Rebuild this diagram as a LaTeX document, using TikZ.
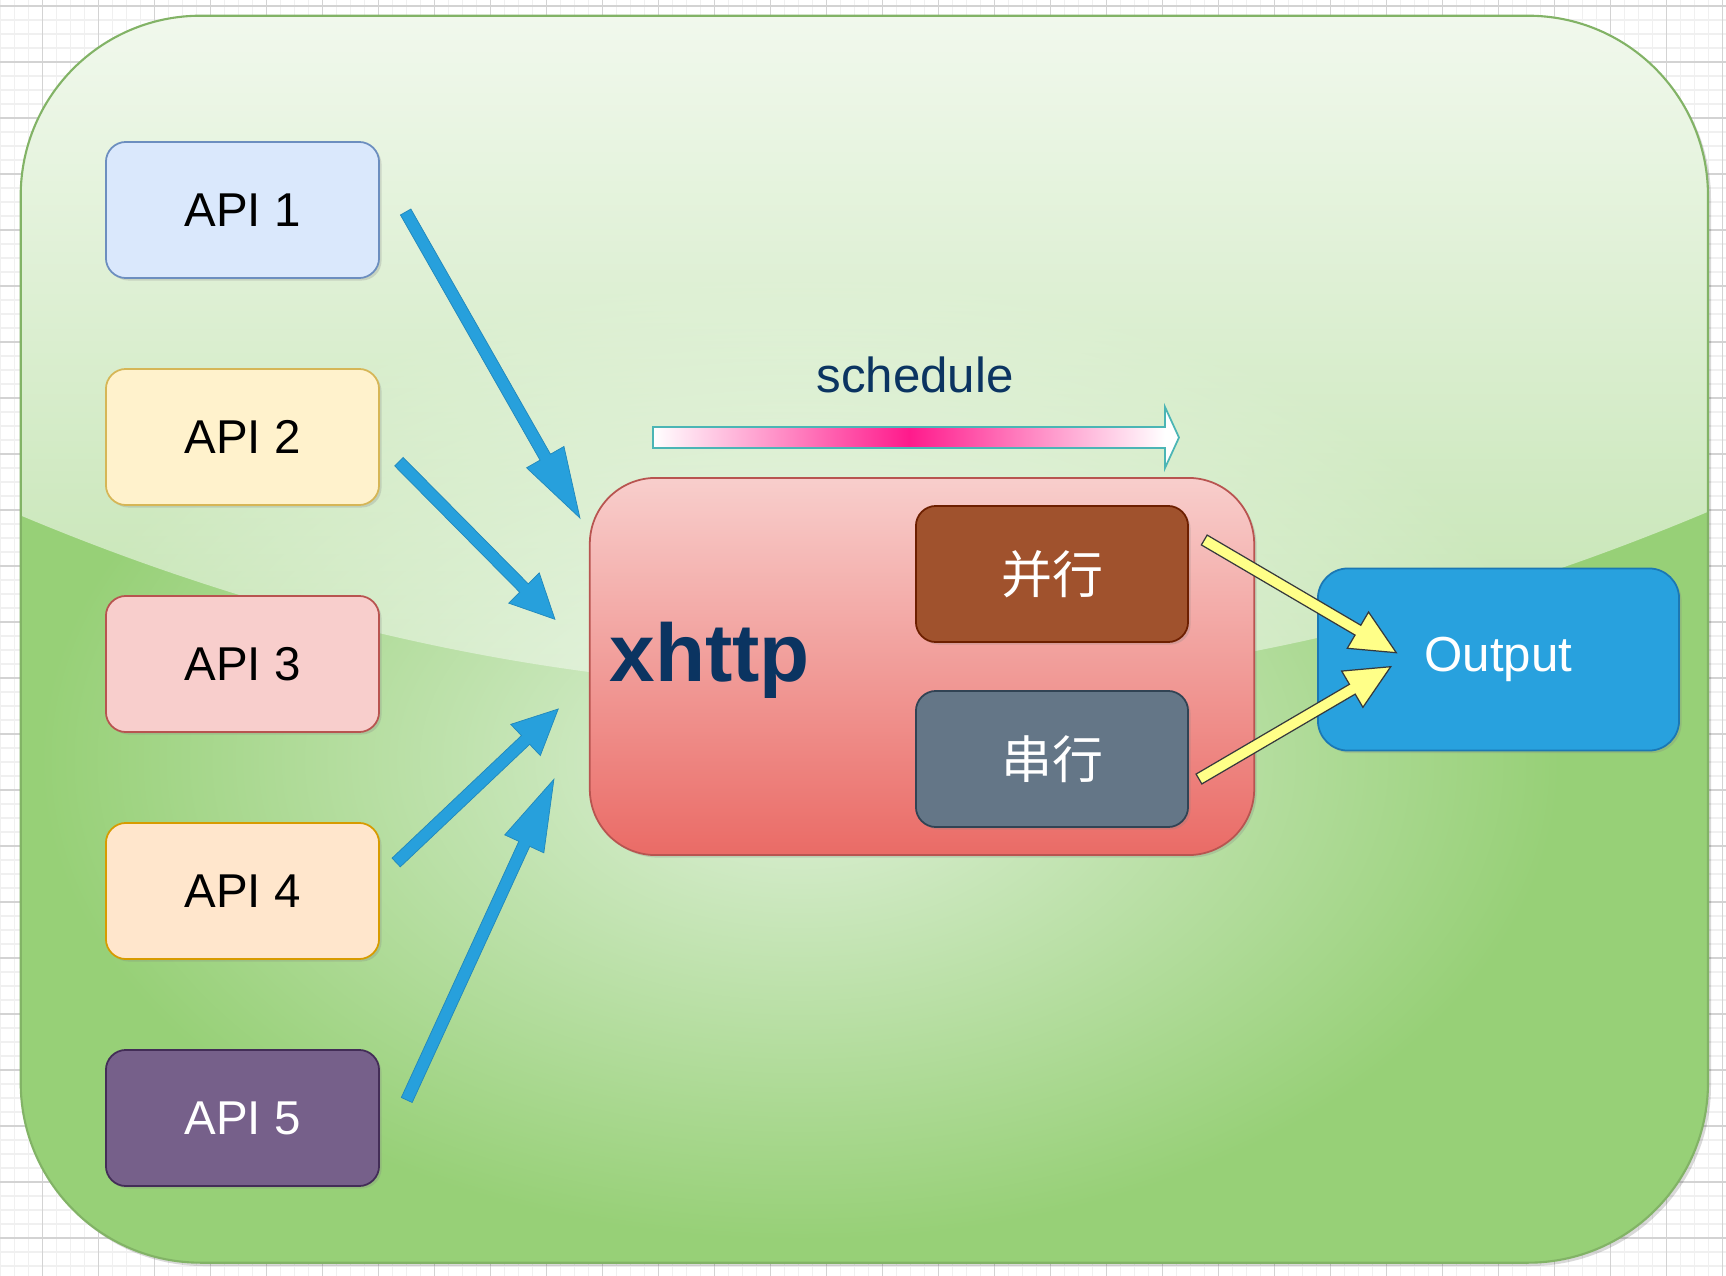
\documentclass[tikz,border=0pt]{standalone}
\usepackage{fontspec}
\setmainfont{Liberation Sans}
\newfontfamily\cjk{Noto Sans CJK SC}
\usetikzlibrary{calc,shadows,fadings}

\definecolor{gridmin}{HTML}{F0F0F0}
\definecolor{gridmaj}{HTML}{D3D3D3}
\definecolor{bgin}{HTML}{E0F1DA}
\definecolor{bgout}{HTML}{97D077}
\definecolor{bgline}{HTML}{82B366}
\definecolor{navy}{HTML}{0B3461}
\definecolor{hot}{HTML}{FF1A8C}
\definecolor{tealline}{HTML}{4BB5B5}
\definecolor{arrblue}{HTML}{27A0DC}
\definecolor{arryel}{HTML}{FFFF88}
\definecolor{arrline}{HTML}{36393D}
\definecolor{apiafill}{HTML}{DAE8FC}\definecolor{apialine}{HTML}{6C8EBF}
\definecolor{apibfill}{HTML}{FFF2CC}\definecolor{apibline}{HTML}{D6B656}
\definecolor{apicfill}{HTML}{F8CECC}\definecolor{apicline}{HTML}{B85450}
\definecolor{apidfill}{HTML}{FFE6CC}\definecolor{apidline}{HTML}{D79B00}
\definecolor{apiefill}{HTML}{76608A}\definecolor{apieline}{HTML}{432D57}
\definecolor{hubtop}{HTML}{F8CECC}\definecolor{hubbot}{HTML}{EA6B66}
\definecolor{parfill}{HTML}{A0522D}\definecolor{parline}{HTML}{6D1F00}
\definecolor{serfill}{HTML}{647687}\definecolor{serline}{HTML}{314354}
\definecolor{outfill}{HTML}{28A1DE}\definecolor{outline}{HTML}{1B78B4}

\tikzfading[name=glassfade, top color=transparent!12, bottom color=transparent!62]

\tikzset{shad/.style={drop shadow={shadow xshift=0.025cm, shadow yshift=-0.025cm, opacity=0.25}}}
\tikzset{api/.style={rounded corners=0.2cm, minimum width=2.73cm, minimum height=1.36cm, line width=0.5pt, font=\fontsize{13.5}{16}\selectfont, shad}}
\tikzset{sub/.style={rounded corners=0.2cm, minimum width=2.72cm, minimum height=1.36cm, line width=0.5pt, text=white, font=\cjk\fontsize{14.5}{17}\selectfont, shad}}
\tikzset{barr/.style={fill=arrblue, draw=arrblue!85!black, line width=0.2pt}}
\tikzset{yarr/.style={fill=arryel, draw=arrline, line width=0.35pt}}

% block arrow: style, tail, tip, half shaft, half head, head length
\newcommand\fatarrow[6]{%
  \coordinate (fabase) at ($(#3)!#6!(#2)$);
  \path[#1] ($(#2)!#4!90:(#3)$) -- ($(fabase)!#4!90:(#3)$) -- ($(fabase)!#5!90:(#3)$) -- (#3)
    -- ($(fabase)!#5!-90:(#3)$) -- ($(fabase)!#4!-90:(#3)$) -- ($(#2)!#4!-90:(#3)$) -- cycle;}

\begin{document}
\begin{tikzpicture}[x=0.01cm, y=-0.01cm]
  \useasboundingbox (0,0) rectangle (1726,1276);
  % page grid
  \fill[white] (0,0) rectangle (1726,1276);
  \foreach \i in {0,...,123} \draw[gridmin, line width=0.45pt] (0.3+14*\i,0) -- (0.3+14*\i,1276);
  \foreach \i in {0,...,91} \draw[gridmin, line width=0.45pt] (0,6+14*\i) -- (1726,6+14*\i);
  \foreach \i in {0,...,30} \draw[gridmaj, line width=0.3pt] (42.3+56*\i,0) -- (42.3+56*\i,1276);
  \foreach \i in {0,...,22} \draw[gridmaj, line width=0.3pt] (0,6+56*\i) -- (1726,6+56*\i);

  % background panel
  \fill[black, opacity=0.15, rounded corners=1.8cm] (23,19) rectangle (1711,1266);
  \begin{scope}
    \clip[rounded corners=1.8cm] (20.7,15.7) rectangle (1708,1262.7);
    \fill[bgout] (0,0) rectangle (1726,1276);
    \shade[inner color=bgin, outer color=bgout] (800,760) ellipse (7.6cm and 4.8cm);
    \fill[white, path fading=glassfade] (0,0) -- (1726,0) -- (1726,512) -- (1708,512)
      .. controls (1148,747) and (580,750) .. (20,515) -- (0,515) -- cycle;
  \end{scope}
  \draw[bgline, line width=0.6pt, rounded corners=1.8cm] (20.7,15.7) rectangle (1708,1262.7);

  % schedule arrow
  \shade[left color=white, right color=white, middle color=hot] (653,427) rectangle (1165,448);
  \fill[white] (1165,407) -- (1179,437.5) -- (1165,468) -- cycle;
  \draw[tealline, line width=0.5pt] (653,427) -- (1165,427) -- (1165,407) -- (1179,437.5)
    -- (1165,468) -- (1165,448) -- (653,448) -- cycle;
  \node[text=navy, anchor=base, inner sep=0pt, font=\fontsize{14}{17}\selectfont] (sched) at (915,393) {schedule};

  % sources
  \node[api, fill=apiafill, draw=apialine] (api1) at (242.5,210) {API 1};
  \node[api, fill=apibfill, draw=apibline] (api2) at (242.5,437) {API 2};
  \node[api, fill=apicfill, draw=apicline] (api3) at (242.5,664) {API 3};
  \node[api, fill=apidfill, draw=apidline] (api4) at (242.5,891) {API 4};
  \node[api, fill=apiefill, draw=apieline, text=white] (api5) at (242.5,1118) {API 5};

  % xhttp
  \node[rounded corners=0.66cm, minimum width=6.64cm, minimum height=3.77cm, top color=hubtop,
    bottom color=hubbot, draw=apicline, line width=0.5pt, shad] (xhttp) at (922,666.5) {};
  \node[anchor=base west, inner sep=0pt, text=navy, font=\bfseries\fontsize{23.3}{28}\selectfont] (xhttplabel) at (609,681) {xhttp};
  \node[sub, fill=parfill, draw=parline] (par) at (1052,574) {并行};
  \node[sub, fill=serfill, draw=serline] (ser) at (1052,759) {串行};

  \node[rounded corners=0.3cm, minimum width=3.61cm, minimum height=1.82cm, fill=outfill, draw=outline,
    line width=0.5pt, text=white, font=\fontsize{14}{17}\selectfont, shad] (out) at (1498.5,659.5) {Output};

  % arrows
  \coordinate (a1) at ($(api1.east)+(25.7,2)$);
  \coordinate (h1) at ($(xhttp.west)+(-9,-148.5)$);
  \coordinate (a2) at ($(api2.east)+(19,24.7)$);
  \coordinate (h2) at ($(xhttp.west)+(-34,-47.2)$);
  \coordinate (a3) at ($(api4.east)+(16.2,-28.5)$);
  \coordinate (h3) at ($(xhttp.west)+(-30.7,42.5)$);
  \coordinate (a4) at ($(api5.east)+(26.8,-18)$);
  \coordinate (h4) at ($(xhttp.west)+(-35,112.8)$);
  \fatarrow{barr}{a1}{h1}{0.06cm}{0.215cm}{0.70cm}
  \fatarrow{barr}{a2}{h2}{0.06cm}{0.215cm}{0.44cm}
  \fatarrow{barr}{a3}{h3}{0.06cm}{0.215cm}{0.45cm}
  \fatarrow{barr}{a4}{h4}{0.06cm}{0.215cm}{0.71cm}

  \coordinate (y1) at ($(par.east)+(15.3,-34)$);
  \coordinate (o1) at ($(out.west)+(79.3,-6.8)$);
  \coordinate (y2) at ($(ser.east)+(10,20)$);
  \coordinate (o2) at ($(out.west)+(73.7,7.2)$);
  \fatarrow{yarr}{y1}{o1}{0.057cm}{0.21cm}{0.445cm}
  \fatarrow{yarr}{y2}{o2}{0.057cm}{0.21cm}{0.445cm}
\end{tikzpicture}
\end{document}
